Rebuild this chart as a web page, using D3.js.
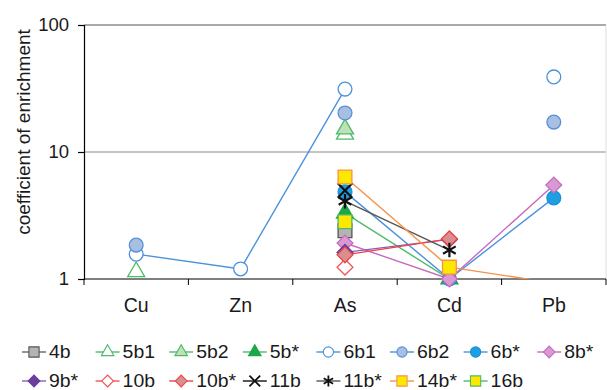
<!DOCTYPE html>
<html>
<script src="https://d3js.org/d3.v7.min.js"></script>
<style>
  body { margin: 0; background: #fff; }
  text { font-family: "Liberation Sans", Arial, sans-serif; fill: #1a1a1a; }
</style>
<body>
<svg id="chart" width="607" height="390"></svg>
<script>
// data (null = not plotted)
const categories = ["Cu", "Zn", "As", "Cd", "Pb"]
const yTicks = [1, 10, 100]
const seriesNames = ["4b", "5b1", "5b2", "5b*", "6b1", "6b2", "6b*", "8b*",
                     "9b*", "10b", "10b*", "11b", "11b*", "14b*", "16b"]
const seriesValues = [
  [null, null, 2.4,  null, null],   // 4b
  [1.14, null, 13.8, null, null],   // 5b1
  [null, null, 15.2, null, null],   // 5b2
  [null, null, 3.3,  1.0,  null],   // 5b*
  [1.57, 1.2,  31.3, null, 39],     // 6b1
  [1.85, null, 20.3, null, 17.2],   // 6b2
  [null, null, 4.85, 1.0,  4.35],   // 6b*
  [null, null, 1.92, 1.0,  5.5],    // 8b*
  [null, null, 1.62, 2.05, null],   // 9b*
  [null, null, 1.24, null, null],   // 10b
  [null, null, 1.55, 2.07, null],   // 10b*
  [null, null, 4.98, null, null],   // 11b
  [null, null, 4.1,  1.69, null],   // 11b*
  [null, null, 6.36, 1.24, 0.93],   // 14b*
  [null, null, 2.82, null, null]    // 16b
]

// look of each series: symbol, fill, stroke, line colour ("diamond" = square turned 45deg)
const styles = [
  {sym: "square",   fill: "#b4b4b4", stroke: "#555",    line: "#666"},
  {sym: "triangle", fill: "#fff",    stroke: "#4dba6a", line: "#4dba6a"},
  {sym: "triangle", fill: "#bfe0b8", stroke: "#4dba6a", line: "#4dba6a"},
  {sym: "triangle", fill: "#1da64a", stroke: "#1da64a", line: "#4dba6a"},
  {sym: "circle",   fill: "#fff",    stroke: "#4a92dc", line: "#4a92dc"},
  {sym: "circle",   fill: "#a8bfe2", stroke: "#5a90d6", line: "#4a92dc"},
  {sym: "circle",   fill: "#1d9fe2", stroke: "#1d8fd8", line: "#4a92dc"},
  {sym: "diamond",  fill: "#d99ad2", stroke: "#c76cbd", line: "#c76cbd"},
  {sym: "diamond",  fill: "#6a3d9f", stroke: "#6a3d9f", line: "#8461b8"},
  {sym: "diamond",  fill: "#fff",    stroke: "#f25555", line: "#f25555"},
  {sym: "diamond",  fill: "#d98f8f", stroke: "#ec4848", line: "#f0404a"},
  {sym: "times",    fill: "none",    stroke: "#111",    line: "#111"},
  {sym: "asterisk", fill: "none",    stroke: "#111",    line: "#555"},
  {sym: "square",   fill: "#ffe800", stroke: "#f5924a", line: "#f5924a"},
  {sym: "square",   fill: "#ffe800", stroke: "#4dba6a", line: "#4dba6a"}
]
const symbolTypes = {square: d3.symbolSquare, diamond: d3.symbolSquare, triangle: d3.symbolTriangle,
  circle: d3.symbolCircle, times: d3.symbolTimes, asterisk: d3.symbolAsterisk}
const symbolSizes = {square: 190, diamond: 125, triangle: 125, circle: 150, times: 140, asterisk: 150}
const symbolPath = (name, k) => d3.symbol().type(symbolTypes[name]).size(symbolSizes[name] * k)()
const rot = name => name == "diamond" ? " rotate(45)" : ""

const plotLeft = 84, plotRight = 606, plotTop = 25, plotBottom = 279

const svg = d3.select("#chart")

const x = d3.scaleBand().domain(categories).range([plotLeft, plotRight])
const y = d3.scaleLog().domain([1, 100]).range([plotBottom, plotTop])

svg.append("defs").append("clipPath").attr("id", "plotClip")
  .append("rect")
    .attr("x", plotLeft).attr("y", plotTop)
    .attr("width", plotRight - plotLeft).attr("height", plotBottom - plotTop)

// gridlines and frame
svg.append("g").selectAll("line")
  .data(yTicks.slice(1))
  .join("line")
    .attr("x1", plotLeft).attr("x2", plotRight)
    .attr("y1", d => y(d)).attr("y2", d => y(d))
    .attr("stroke", (d, i) => i == 1 ? "#555" : "#8a8a8a")
    .attr("stroke-width", 1.2)
svg.append("line")
  .attr("x1", plotRight).attr("x2", plotRight).attr("y1", plotTop).attr("y2", plotBottom)
  .attr("stroke", "#ddd")

// axes
const yAxis = svg.append("g")
  .attr("transform", "translate(" + plotLeft + ",0)")
  .call(d3.axisLeft(y).tickValues(yTicks).tickFormat(d3.format("d")).tickSize(6).tickPadding(9))
yAxis.selectAll("text").style("font-size", "18.5px")

const xAxis = svg.append("g")
  .attr("transform", "translate(0," + plotBottom + ")")
  .call(d3.axisBottom(x).tickSize(0).tickPadding(19))
xAxis.selectAll("text").style("font-size", "19.5px")
xAxis.select(".domain").remove()
svg.append("line")
  .attr("x1", plotLeft).attr("x2", plotRight).attr("y1", plotBottom).attr("y2", plotBottom)
  .attr("stroke", "#000").attr("stroke-width", 1.2)
svg.append("g").selectAll("line")
  .data(d3.range(categories.length + 1))
  .join("line")
    .attr("x1", d => plotLeft + d * x.bandwidth()).attr("x2", d => plotLeft + d * x.bandwidth())
    .attr("y1", plotBottom).attr("y2", plotBottom + 6)
    .attr("stroke", "#000")
yAxis.selectAll(".domain, .tick line").attr("stroke", "#000").attr("stroke-width", 1.2)

svg.append("text")
  .attr("transform", "translate(25,132) rotate(-90)")
  .attr("text-anchor", "middle")
  .attr("dominant-baseline", "middle")
  .style("font-size", "19px")
  .text("coefficient of enrichment")

// lines
const cx = i => x(categories[i]) + x.bandwidth() / 2
const line = d3.line()
  .defined(d => d != null)
  .x((d, i) => cx(i))
  .y(d => y(d))

svg.append("g").attr("clip-path", "url(#plotClip)")
  .selectAll("path")
  .data(seriesValues)
  .join("path")
    .attr("fill", "none")
    .attr("stroke", (d, i) => styles[i].line)
    .attr("stroke-width", 1.4)
    .attr("d", d => line(d))

// markers
seriesValues.forEach((vals, si) => {
  const st = styles[si]
  const pts = vals.map((v, i) => ({v, i})).filter(p => p.v != null && p.v >= 1)
  svg.append("g").selectAll("path")
    .data(pts)
    .join("path")
      .attr("transform", p => "translate(" + cx(p.i) + "," + y(p.v) + ")" + rot(st.sym))
      .attr("d", symbolPath(st.sym, 1))
      .attr("fill", st.fill)
      .attr("stroke", st.stroke)
      .attr("stroke-width", st.fill == "none" ? 2.2 : 1.3)
})

// legend
const legend = svg.append("g")
  .selectAll("g")
  .data(seriesNames)
  .join("g")
    .attr("transform", (d, i) => "translate(" + (22 + (i % 8) * 73.6) + "," + (i < 8 ? 352 : 381) + ")")

legend.append("line")
  .attr("x1", 0).attr("x2", 24)
  .attr("stroke", (d, i) => styles[i].line)
  .attr("stroke-width", 1.4)
legend.append("path")
  .attr("transform", (d, i) => "translate(12,0)" + rot(styles[i].sym))
  .attr("d", (d, i) => symbolPath(styles[i].sym, 0.55))
  .attr("fill", (d, i) => styles[i].fill)
  .attr("stroke", (d, i) => styles[i].stroke)
  .attr("stroke-width", (d, i) => styles[i].fill == "none" ? 1.8 : 1.1)
legend.append("text")
  .attr("transform", "translate(27,0) scale(1.08,1)")
  .attr("dy", "0.36em")
  .style("font-size", "18px")
  .text(d => d)
</script>
</body>
</html>
